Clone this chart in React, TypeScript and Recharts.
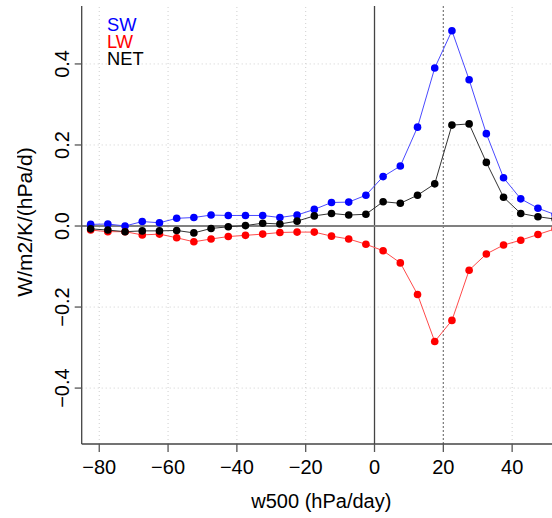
import React from "react";
import { LineChart, Line, XAxis, YAxis, ReferenceLine } from "recharts";

const w500 = [-82.5, -77.5, -72.5, -67.5, -62.5, -57.5, -52.5, -47.5, -42.5, -37.5, -32.5, -27.5, -22.5, -17.5, -12.5, -7.5, -2.5, 2.5, 7.5, 12.5, 17.5, 22.5, 27.5, 32.5, 37.5, 42.5, 47.5, 52.5];
const sw = [0.004, 0.005, 0.0, 0.011, 0.008, 0.019, 0.021, 0.027, 0.026, 0.026, 0.026, 0.021, 0.027, 0.041, 0.058, 0.059, 0.076, 0.122, 0.148, 0.244, 0.39, 0.482, 0.361, 0.228, 0.119, 0.067, 0.044, 0.028];
const lw = [-0.01, -0.014, -0.014, -0.022, -0.02, -0.029, -0.039, -0.032, -0.026, -0.023, -0.02, -0.016, -0.015, -0.015, -0.025, -0.032, -0.045, -0.061, -0.091, -0.169, -0.285, -0.233, -0.109, -0.069, -0.047, -0.035, -0.021, -0.007];
const net = [-0.007, -0.01, -0.014, -0.012, -0.012, -0.011, -0.017, -0.006, -0.002, 0.001, 0.007, 0.005, 0.012, 0.025, 0.031, 0.027, 0.029, 0.06, 0.056, 0.076, 0.104, 0.249, 0.252, 0.157, 0.071, 0.031, 0.023, 0.017];

const xTicks = [-80, -60, -40, -20, 0, 20, 40];
const yTicks = [-0.4, -0.2, 0, 0.2, 0.4];

const data = w500.map((x, i) => ({ x, sw: sw[i], lw: lw[i], net: net[i] }));

const FONT = "'Liberation Sans', Arial, sans-serif";
const fmtNum = (v: number, d: number) => {
  const s = Math.abs(v).toFixed(d);
  return v < 0 ? "\u2212" + s : s;
};

const XTick = (props: any) => {
  const { x, y, payload } = props;
  return (
    <text x={x} y={y + 20} textAnchor="middle" fontFamily={FONT} fontSize={20} fill="#000">
      {fmtNum(payload.value, 0)}
    </text>
  );
};

const YTick = (props: any) => {
  const { x, y, payload } = props;
  const bx = x - 4;
  return (
    <text x={bx} y={y} transform={`rotate(-90, ${bx}, ${y})`} textAnchor="middle" fontFamily={FONT} fontSize={20} fill="#000">
      {fmtNum(payload.value, 1)}
    </text>
  );
};

const XLabel = (props: any) => {
  const vb = props.viewBox;
  return (
    <text x={vb.x + vb.width / 2} y={508} textAnchor="middle" fontFamily={FONT} fontSize={20} fill="#000">
      w500 (hPa/day)
    </text>
  );
};

const YLabel = (props: any) => {
  const vb = props.viewBox;
  const cy = vb.y + vb.height / 2 - 3;
  const bx = 31.5;
  return (
    <g>
      <defs>
        <clipPath id="ylabclip">
          <rect x={17} y={0} width={60} height={518} />
        </clipPath>
      </defs>
      <g clipPath="url(#ylabclip)">
        <text x={bx} y={cy} transform={`rotate(-90, ${bx}, ${cy})`} textAnchor="middle" fontFamily={FONT} fontSize={21} fill="#000">
          W/m2/K/(hPa/d)
        </text>
      </g>
    </g>
  );
};

const legendItems = [
  { name: "SW", color: "#0000FF" },
  { name: "LW", color: "#FF0000" },
  { name: "NET", color: "#000000" },
];

const GRID = "#cfcfcf";

export default function App() {
  return (
    <div style={{ position: "absolute", left: 0, top: 0, width: 552, height: 518, overflow: "hidden", background: "#fff" }}>
      <LineChart width={600} height={518} data={data} margin={{ top: 6, right: 39, bottom: 0, left: 0 }}>
        <XAxis
          xAxisId="b"
          dataKey="x"
          type="number"
          domain={[-85.1, 54.2]}
          ticks={xTicks}
          allowDataOverflow
          height={74}
          tickSize={8}
          tickLine={{ stroke: "#555", strokeWidth: 1.3 }}
          axisLine={{ stroke: "#444", strokeWidth: 1.3 }}
          tick={<XTick />}
          label={<XLabel />}
        />
        <XAxis xAxisId="t" dataKey="x" type="number" domain={[-85.1, 54.2]} ticks={xTicks} orientation="top" height={0} tick={false} tickLine={false} axisLine={{ stroke: "#111", strokeWidth: 1.3 }} />
        <YAxis
          dataKey="sw"
          type="number"
          domain={[-0.538, 0.543]}
          ticks={yTicks}
          allowDataOverflow
          width={81.7}
          tickSize={7}
          tickLine={{ stroke: "#555", strokeWidth: 1.3 }}
          axisLine={{ stroke: "#444", strokeWidth: 1.3 }}
          tick={<YTick />}
          label={<YLabel />}
        />
        {yTicks.filter((t) => t !== 0).map((t) => (
          <ReferenceLine key={"y" + t} xAxisId="b" y={t} stroke={GRID} strokeDasharray="1 3" />
        ))}
        {xTicks.filter((t) => t !== 0 && t !== 20).map((t) => (
          <ReferenceLine key={"x" + t} xAxisId="b" x={t} stroke={GRID} strokeDasharray="1 3" />
        ))}
        <ReferenceLine xAxisId="b" x={20} stroke="#777" strokeDasharray="2 2" strokeWidth={1.2} />
        <ReferenceLine xAxisId="b" x={0} stroke="#444" strokeWidth={1.3} />
        <ReferenceLine xAxisId="b" y={0} stroke="#808080" strokeWidth={2} />
        <Line xAxisId="b" type="linear" dataKey="sw" stroke="#4a4aff" strokeWidth={1} dot={{ r: 3.8, fill: "#0000FF", stroke: "none" }} activeDot={false} isAnimationActive={false} />
        <Line xAxisId="b" type="linear" dataKey="lw" stroke="#ff4a4a" strokeWidth={1} dot={{ r: 3.8, fill: "#FF0000", stroke: "none" }} activeDot={false} isAnimationActive={false} />
        <Line xAxisId="b" type="linear" dataKey="net" stroke="#333" strokeWidth={1} dot={{ r: 3.8, fill: "#000000", stroke: "none" }} activeDot={false} isAnimationActive={false} />
      </LineChart>
      <svg width={200} height={80} style={{ position: "absolute", left: 0, top: 0, pointerEvents: "none" }}>
        {legendItems.map((it, i) => (
          <text key={it.name} x={107} y={30.5 + i * 17.2} fontFamily={FONT} fontSize={18.3} fill={it.color}>
            {it.name}
          </text>
        ))}
      </svg>
    </div>
  );
}
